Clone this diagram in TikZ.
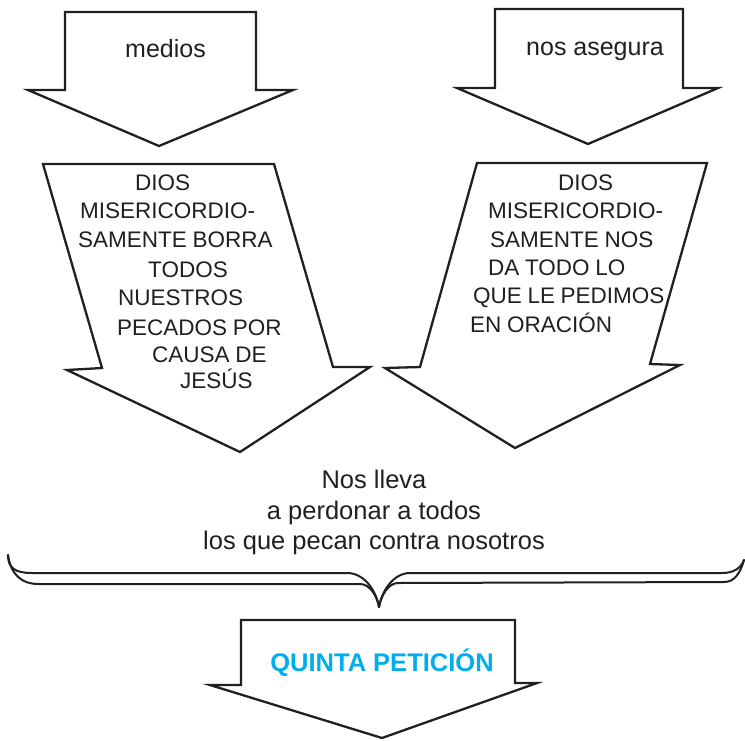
\documentclass[tikz,border=0pt]{standalone}
\usepackage{fontspec}
\setmainfont{Liberation Sans}
\newfontfamily\capsfont[WordSpace=0.9]{Liberation Sans}
\definecolor{inkc}{HTML}{231F20}
\definecolor{quinta}{HTML}{00AEEF}
\begin{document}
\begin{tikzpicture}[x=1pt,y=-1pt,
  arrowshape/.style={draw=inkc, line width=2.3pt, line join=miter, fill=white},
  bracestroke/.style={draw=inkc, line width=2pt, line cap=round},
  capstext/.style={font=\capsfont\fontsize{22.5}{27}\selectfont, anchor=base west, inner sep=0pt, text=inkc},
  lowtext/.style={font=\fontsize{25}{29}\selectfont, anchor=base west, inner sep=0pt, text=inkc},
  midtext/.style={font=\fontsize{25.5}{31}\selectfont, anchor=base, inner sep=0pt, text=inkc},
  quintatext/.style={font=\fontsize{25.5}{29}\selectfont\bfseries, anchor=base, inner sep=0pt, text=quinta}]
\useasboundingbox (0,0) rectangle (745,740);

% arrow 1: medios
\draw[arrowshape] (65,12) -- (256,12) -- (256,90) -- (293,90) -- (159,146) -- (28,90) -- (65,90) -- cycle;
\node[lowtext] (medios) at (125,57) {medios};

% arrow 2: nos asegura
\draw[arrowshape] (495,9) -- (683,9) -- (683,88) -- (718,88) -- (588,144) -- (457,88) -- (495,88) -- cycle;
\node[lowtext] (asegura) at (526,55) {nos asegura};

% arrow 3: left slanted
\draw[arrowshape] (43,164) -- (274,164) -- (333,367) -- (370,367) -- (240,452) -- (67,370) -- (102,368) -- cycle;
\node[capstext] (a1) at (135,190) {DIOS};
\node[capstext] (a2) at (80,218) {MISERICORDIO-};
\node[capstext] (a3) at (78,247) {SAMENTE BORRA};
\node[capstext] (a4) at (148,277) {TODOS};
\node[capstext] (a5) at (118,305) {NUESTROS};
\node[capstext] (a6) at (117,335) {PECADOS POR};
\node[capstext] (a7) at (152,362) {CAUSA DE};
\node[capstext] (a8) at (180,388) {JESÚS};

% arrow 4: right slanted
\draw[arrowshape] (477,163) -- (707,163) -- (650,364) -- (680,365) -- (515,448) -- (385,368) -- (420,367) -- cycle;
\node[capstext] (b1) at (558,190) {DIOS};
\node[capstext] (b2) at (488,218) {MISERICORDIO-};
\node[capstext] (b3) at (490,247) {SAMENTE NOS};
\node[capstext] (b4) at (488,275) {DA TODO LO};
\node[capstext] (b5) at (473,303) {QUE LE PEDIMOS};
\node[capstext] (b6) at (470,332) {EN ORACIÓN};

% middle text
\node[midtext] (m1) at (374,488) {Nos lleva};
\node[midtext] (m2) at (374,519) {a perdonar a todos};
\node[midtext] (m3) at (374,549) {los que pecan contra nosotros};

% brace (double outlined)
\coordinate (btip) at (379,607);
\draw[bracestroke] (8,555) .. controls (8,568) and (15,573) .. (32,573) -- (347,573) .. controls (364,573) and (376,590) .. (btip);
\draw[bracestroke] (8,555) .. controls (11,575) and (22,584) .. (38,584) -- (360,584) .. controls (370,584) and (377,596) .. (btip);
\draw[bracestroke] (btip) .. controls (382,590) and (394,573) .. (410,573) -- (722,573) .. controls (734,573) and (741,568) .. (744,560);
\draw[bracestroke] (btip) .. controls (381,596) and (388,583) .. (398,583) -- (724,582) .. controls (734,582) and (740,574) .. (744,560);

% arrow 5: quinta peticion
\draw[arrowshape] (241,620) -- (515,620) -- (515,683) -- (537,683) -- (382,738) -- (210,685) -- (241,685) -- cycle;
\node[quintatext] (quinta) at (382,671) {QUINTA PETICIÓN};
\end{tikzpicture}
\end{document}
